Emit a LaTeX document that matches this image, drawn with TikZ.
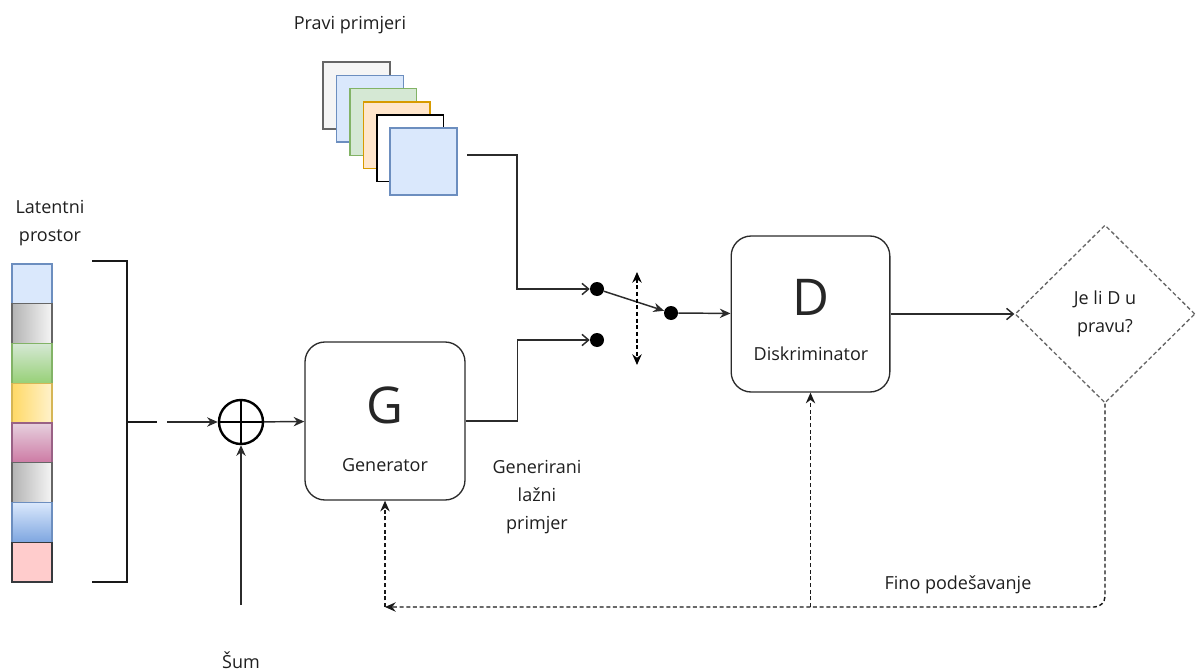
\documentclass[tikz,border=0pt]{standalone}
\usepackage{fontspec}
\setmainfont{Open Sans}
\usetikzlibrary{positioning,shapes.geometric,arrows.meta,calc}

\definecolor{txt}{HTML}{1F1F1F}
\definecolor{ln}{HTML}{2B2B2B}
\definecolor{dgray}{HTML}{666666}
\definecolor{lblue}{HTML}{DAE8FC}
\definecolor{bblue}{HTML}{6C8EBF}
\definecolor{dblue}{HTML}{7EA6E0}
\definecolor{lgreen}{HTML}{D5E8D4}
\definecolor{bgreen}{HTML}{82B366}
\definecolor{dgreen}{HTML}{97D077}
\definecolor{lorange}{HTML}{FFE6CC}
\definecolor{borange}{HTML}{D79B00}
\definecolor{lyellow}{HTML}{FFF2CC}
\definecolor{dyellow}{HTML}{FFD966}
\definecolor{byellow}{HTML}{D6B656}
\definecolor{lpink}{HTML}{E6D0DE}
\definecolor{dpink}{HTML}{CD7AA4}
\definecolor{bpink}{HTML}{996185}
\definecolor{rose}{HTML}{FFCCCC}
\definecolor{brose}{HTML}{36393D}
\definecolor{lgray}{HTML}{F5F5F5}
\definecolor{mgray}{HTML}{B3B3B3}

\tikzset{
  lat1/.style={fill=lblue, draw=bblue},
  lat2/.style={left color=mgray, right color=lgray, draw=dgray},
  lat3/.style={top color=lgreen, bottom color=dgreen, draw=bgreen},
  lat4/.style={left color=dyellow, right color=lyellow, draw=byellow},
  lat5/.style={top color=lpink, bottom color=dpink, draw=bpink},
  lat6/.style={left color=mgray, right color=lgray, draw=dgray},
  lat7/.style={top color=lblue, bottom color=dblue, draw=bblue},
  lat8/.style={fill=rose, draw=brose},
  img1/.style={fill=lgray, draw=dgray},
  img2/.style={fill=lblue, draw=bblue},
  img3/.style={fill=lgreen, draw=bgreen},
  img4/.style={fill=lorange, draw=borange},
  img5/.style={fill=white, draw=black},
  img6/.style={fill=lblue, draw=bblue}
}

\begin{document}
\begin{tikzpicture}[x=0.75pt, y=-0.75pt,
  every node/.style={text=txt, font=\fontsize{13.5}{21}\selectfont},
  block/.style={rectangle, rounded corners=15pt, draw=ln, line width=1pt, fill=white},
  bigletter/.style={font=\fontsize{38}{42}\selectfont, text=black!85},
  cell/.style={rectangle, minimum width=30pt, minimum height=29.8pt, inner sep=0pt, line width=1pt},
  photo/.style={rectangle, minimum size=50pt, inner sep=0pt, line width=1.1pt},
  dot/.style={circle, fill=black, minimum size=10.5pt, inner sep=0pt},
  arr/.style={-{Stealth[length=8pt, width=7pt]}, draw=ln, line width=1.1pt},
  oarr/.style={-{Straight Barb[length=5pt, width=8.5pt]}, draw=ln, line width=1.1pt},
  fb/.style={-{Stealth[length=8pt, width=7pt]}, draw=black!90, line width=1.1pt, dash pattern=on 3pt off 2pt}
]
\useasboundingbox (0,0) rectangle (1197,671);

% Latentni prostor
\node (latlabel) [align=center] at (50,223) {Latentni\\prostor};
\foreach \i in {1,...,8}
  \node (cell\i) [cell, lat\i] at (32, {264+39.75*(\i-0.5)}) {};

% Zagrada
\draw[line width=1.8pt, black!90] (92,261) -- (127,261) -- (127,582) -- (92,582)
  (127,422) -- (157,422);
\coordinate (latout) at (167,422);

% Zbrajanje sa sumom
\node (plus) [circle, draw=black, line width=1.8pt, minimum size=33pt, inner sep=0pt] at (241,422) {};
\draw[line width=1.8pt] (plus.north) -- (plus.south) (plus.west) -- (plus.east);
\node (sum) at (241,660) {Šum};
\coordinate (sumtop) at (241,605);

% Generator
\node (gen) [block, minimum width=120pt, minimum height=118.5pt] at (385,421) {};
\node (genG) [bigletter] at (385,405) {G};
\node (genlabel) at (385,465) {Generator};
\node (fakelabel) [align=center] at (537,497) {Generirani\\lažni\\primjer};

% Pravi primjeri
\node (reallabel) at (350,25) {Pravi primjeri};
\foreach \i in {1,...,6}
  \node (img\i) [photo, img\i] at ({356.5+13.4*(\i-1)}, {95.5+13.2*(\i-1)}) {};
\coordinate (realout) at (467,155);

% Prekidac
\node (dotA) [dot] at (597,289) {};
\node (dotB) [dot] at (597,340) {};
\node (dotC) [dot] at (671,313) {};
\coordinate (swtop) at (637,272);
\coordinate (swbot) at (637,365);

% Diskriminator
\node (disc) [block, minimum width=119pt, minimum height=117pt] at (810.5,314) {};
\node (discD) [bigletter] at (811,297) {D};
\node (disclabel) at (811,354) {Diskriminator};

% Odluka
\node (judge) [diamond, draw=dgray, line width=1pt, dash pattern=on 3pt off 2pt,
  minimum width=135pt, minimum height=133.5pt, inner sep=0pt, align=center] at (1105,314) {Je li D u\\pravu?};

% Fino podesavanje
\node (tunelabel) at (958,585) {Fino podešavanje};
\coordinate (fbG) at (385,607);
\coordinate (fbD) at (810.5,607);

% Veze
\draw[arr] (latout) -- (plus);
\draw[arr] (sumtop) -- (plus.south);
\draw[arr] (plus) -- (gen);
\draw[oarr] (gen.east) -- ++(52,0) |- (dotB);
\draw[oarr] (realout) -- ++(50,0) |- (dotA);
\draw[arr] (dotA) -- (dotC);
\draw[{Stealth[length=8pt, width=7pt]}-{Stealth[length=8pt, width=7pt]}, line width=1.1pt, dash pattern=on 3pt off 2pt] (swtop) -- (swbot);
\draw[arr] (dotC) -- (disc);
\draw[oarr] (disc.east) -- (judge.west);
\draw[fb, rounded corners=8pt] (judge.south) |- (fbG);
\draw[fb] (fbG) -- (gen.south);
\draw[fb] (fbD) -- (disc.south);

\end{tikzpicture}
\end{document}
